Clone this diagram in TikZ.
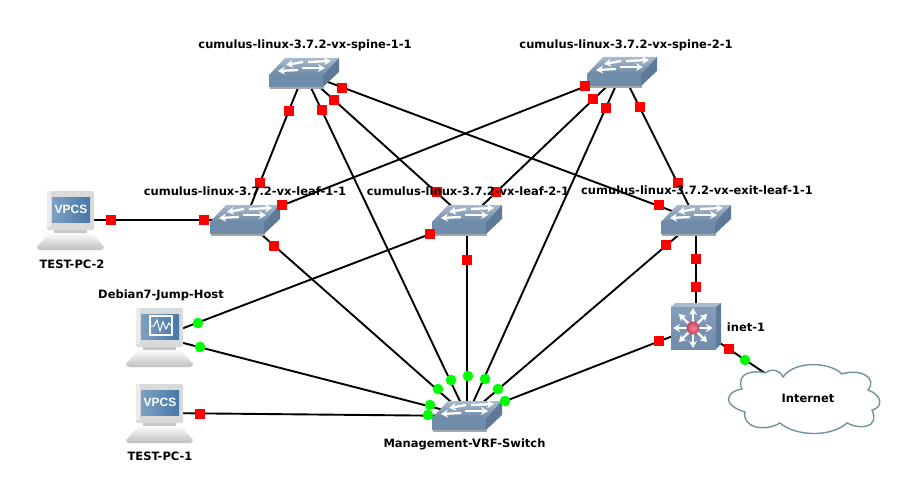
\documentclass[tikz,border=0pt]{standalone}
\usepackage{fontspec}
\setmainfont{DejaVu Sans}
\newfontfamily\screenfont{Liberation Sans}
\usetikzlibrary{arrows.meta}
\definecolor{sfront}{HTML}{6F8CAB}
\definecolor{sside}{HTML}{5E7A96}
\definecolor{stopa}{HTML}{A9BBCD}
\definecolor{stopb}{HTML}{6D89A7}
\definecolor{cloudline}{HTML}{6E9698}
\definecolor{pcgray}{HTML}{DADADA}
\definecolor{pcscreen}{HTML}{4678A8}
\definecolor{ballred}{HTML}{E8506E}
\tikzset{
    spot/.style={inner sep=0pt, minimum size=0pt},
    netlink/.style={draw=black, line width=1.9pt},
    redport/.style={fill=red, inner sep=0pt, minimum size=10.6pt},
    greenport/.style={circle, fill=green, inner sep=0pt, minimum size=10.6pt},
    devlabel/.style={font=\fontsize{11.5}{13}\selectfont\bfseries, inner sep=0pt},
    swarrow/.style={draw=white, line width=2.3pt, -{Stealth[length=7pt,width=8pt]}},
    switchicon/.pic={
        \fill[black!35] (-34,14) rectangle (20,16);
        \shade[top color=stopa, bottom color=stopb] (-35,2)--(19,2)--(35,-15)--(-19,-15)--cycle;
        \fill[sfront] (-35,2) rectangle (19,14);
        \fill[sside] (19,2)--(35,-15)--(35,-1)--(19,14)--cycle;
        \draw[swarrow] (-1,-11)--(-18,-8);
        \draw[swarrow] (4,-11)--(27,-12);
        \draw[swarrow] (-6,-3)--(-26,-2);
        \draw[swarrow] (-2,-5)--(21,-5);
    },
    pcicon/.pic={
        \shade[top color=white, bottom color=black!25] (-21,12)--(20,12)--(33,27) to[out=-90,in=0] (30,30)--(-31,30) to[out=180,in=-90] (-34,27)--cycle;
        \fill[black!22] (-17,10) rectangle (16,13);
        \fill[pcgray, rounded corners=2pt] (-24,-29) rectangle (23,10);
        \fill[white!92!black] (-24,-29) rectangle (-20,7);
        \shade[left color=pcscreen!70!white, right color=pcscreen] (-19,-23) rectangle (19,2);
    }
}
\begin{document}
\begin{tikzpicture}[x=1pt, y=-1pt]
\useasboundingbox (0,0) rectangle (914,495);
\fill[white] (0,0) rectangle (914,495);

\node[spot] (spineA) at (304,73){};
\node[spot] (spineB) at (622,72){};
\node[spot] (leafA) at (245,220){};
\node[spot] (leafB) at (467,220){};
\node[spot] (exitA) at (696,220){};
\node[spot] (mgmt) at (467,416){};
\node[spot] (inet) at (696,327){};
\node[spot] (cloudA) at (802,398){};
\node[spot] (pcB) at (71,220){};
\node[spot] (jump) at (160,337){};
\node[spot] (pcA) at (160,413){};

\foreach \a/\b in {spineA/leafA, spineA/leafB, spineA/exitA, spineA/mgmt,
    spineB/leafA, spineB/leafB, spineB/exitA, spineB/mgmt,
    leafA/mgmt, leafB/mgmt, exitA/mgmt, exitA/inet, inet/mgmt, inet/cloudA,
    pcB/leafA, jump/leafB, jump/mgmt, pcA/mgmt}
{
    \draw[netlink] (\a)--(\b);
}

% cloud
\filldraw[fill=white, draw=cloudline, line width=1.4pt]
    (765,373) .. controls (772,368) and (780,370) .. (783,377)
    .. controls (795,360) and (830,362) .. (842,374)
    .. controls (860,368) and (878,378) .. (868,390)
    .. controls (884,396) and (882,408) .. (872,410)
    .. controls (880,428) and (860,430) .. (847,423)
    .. controls (830,438) and (795,436) .. (780,423)
    .. controls (765,432) and (742,428) .. (745,412)
    .. controls (722,405) and (725,392) .. (742,389)
    .. controls (735,372) and (755,370) .. (765,373)--cycle;

% switches
\foreach \n in {spineA,spineB,leafA,leafB,exitA,mgmt}
{
    \pic at (\n) {switchicon};
}

% inet-1
\fill[sside] (671,307)--(676,303)--(721,303)--(721,344)--(716,349)--(671,349)--cycle;
\fill[stopa] (671,307)--(676,303)--(721,303)--(716,307)--cycle;
\shade[top color=sfront!85!white, bottom color=sfront] (671,307) rectangle (716,349);
\foreach \t in {0,45,...,315}
{
    \draw[white, line width=2.2pt, -{Stealth[length=7pt,width=8pt]}] (693,328)--++(\t:20);
}
\shade[inner color=ballred!70!white, outer color=ballred!85!black] (693,328) circle (6.5);

% pcs
\pic at (pcB) {pcicon};
\pic at (jump) {pcicon};
\pic at (pcA) {pcicon};
\foreach \n in {pcB,pcA}
{
    \node[white, inner sep=0pt, font=\screenfont\fontsize{12}{13}\selectfont\bfseries] at ([yshift=10.5pt]\n){VPCS};
}
\draw[white, line width=1.3pt] (150,316) rectangle (172,335);
\draw[white, line width=1pt] (150,326)--(154,326)--(157,320)--(160,331)--(163,322)--(166,329)--(169,323)--(172,327);

\foreach \x/\y [count=\i] in {289/111, 260/183, 322/110, 342/88, 659/205, 334/100, 437/192,
    585/86, 282/205, 593/99, 496/192, 640/107, 678/183, 606/108, 274/246, 430/234, 467/260,
    666/245, 696/259, 696/287, 659/341, 729/349, 111/220, 204/220, 200/414}
{
    \node[redport] (red\i) at (\x,\y){};
}
\foreach \x/\y [count=\i] in {198/323, 200/347, 438/389, 451/380, 468/376, 485/379, 498/389,
    505/401, 430/405, 428/415, 745/360}
{
    \node[greenport] (green\i) at (\x,\y){};
}

\node[devlabel] (spineAlabel) at (305,45){cumulus-linux-3.7.2-vx-spine-1-1};
\node[devlabel] (spineBlabel) at (626,45){cumulus-linux-3.7.2-vx-spine-2-1};
\node[devlabel] (leafAlabel) at (245,191){cumulus-linux-3.7.2-vx-leaf-1-1};
\node[devlabel] (leafBlabel) at (468,191){cumulus-linux-3.7.2-vx-leaf-2-1};
\node[devlabel] (exitAlabel) at (697,190){cumulus-linux-3.7.2-vx-exit-leaf-1-1};
\node[devlabel] (pcBlabel) at (72,264){TEST-PC-2};
\node[devlabel] (jumplabel) at (161,295){Debian7-Jump-Host};
\node[devlabel] (pcAlabel) at (160,456){TEST-PC-1};
\node[devlabel] (mgmtlabel) at (464.5,444){Management-VRF-Switch};
\node[devlabel] (inetlabel) at (746,327){inet-1};
\node[devlabel] (cloudlabel) at (808,398){Internet};
\end{tikzpicture}
\end{document}
